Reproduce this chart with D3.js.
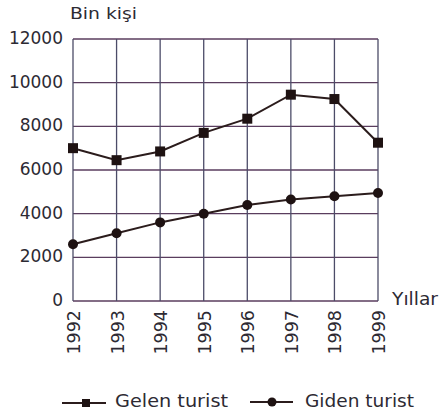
<!DOCTYPE html>
<html>
<head>
<meta charset="utf-8">
<script src="https://d3js.org/d3.v7.min.js"></script>
<style>
  body { margin: 0; background: #fff; }
  text { font-family: "DejaVu Sans", sans-serif; fill: #2d2a33; }
</style>
</head>
<body>
<div id="chart"></div>
<script>
var svgWidth = 441;
var svgHeight = 418;

var years = ["1992", "1993", "1994", "1995", "1996", "1997", "1998", "1999"];
var gelen = [7000, 6450, 6850, 7700, 8350, 9450, 9250, 7250];
var giden = [2600, 3100, 3600, 4000, 4400, 4650, 4800, 4950];
var yTicks = [0, 2000, 4000, 6000, 8000, 10000, 12000];

var margin = { top: 39, right: 63, bottom: 117, left: 73 };
var width = svgWidth - margin.left - margin.right;
var height = svgHeight - margin.top - margin.bottom;

var svg = d3.select("#chart")
  .append("svg")
  .attr("width", svgWidth)
  .attr("height", svgHeight);

var chartGroup = svg.append("g")
  .attr("transform", `translate(${margin.left}, ${margin.top})`);

var xScale = d3.scalePoint()
  .domain(years)
  .range([0, width]);

var yScale = d3.scaleLinear()
  .domain([0, 12000])
  .range([height, 0]);

// grid lines
chartGroup.selectAll(".hgrid")
  .data(yTicks)
  .enter()
  .append("line")
  .attr("x1", 0)
  .attr("x2", width)
  .attr("y1", d => yScale(d))
  .attr("y2", d => yScale(d))
  .attr("stroke", "#5a3d5e")
  .attr("stroke-width", 1.3);

chartGroup.selectAll(".vgrid")
  .data(years)
  .enter()
  .append("line")
  .attr("x1", d => xScale(d))
  .attr("x2", d => xScale(d))
  .attr("y1", 0)
  .attr("y2", height)
  .attr("stroke", "#4c4c68")
  .attr("stroke-width", 1.3);

// y tick labels
chartGroup.selectAll(".ylab")
  .data(yTicks)
  .enter()
  .append("text")
  .attr("x", -10)
  .attr("y", d => yScale(d) + 5)
  .attr("text-anchor", "end")
  .attr("font-size", 17)
  .text(d => d);

// x tick labels, rotated
chartGroup.selectAll(".xlab")
  .data(years)
  .enter()
  .append("text")
  .attr("transform", d => `translate(${xScale(d) + 7}, ${height + 9}) rotate(-90)`)
  .attr("text-anchor", "end")
  .attr("font-size", 17.5)
  .text(d => d);

svg.append("text")
  .attr("x", 70)
  .attr("y", 19)
  .attr("font-size", 16)
  .attr("textLength", 67)
  .attr("lengthAdjust", "spacingAndGlyphs")
  .text("Bin kişi");

svg.append("text")
  .attr("x", 392)
  .attr("y", 305)
  .attr("font-size", 17)
  .attr("textLength", 46)
  .attr("lengthAdjust", "spacingAndGlyphs")
  .text("Yıllar");

var line = d3.line()
  .x((d, i) => xScale(years[i]))
  .y(d => yScale(d));

var lineColor = "#2b1c1c";

chartGroup.append("path")
  .datum(gelen)
  .attr("d", line)
  .attr("fill", "none")
  .attr("stroke", lineColor)
  .attr("stroke-width", 2);

chartGroup.append("path")
  .datum(giden)
  .attr("d", line)
  .attr("fill", "none")
  .attr("stroke", lineColor)
  .attr("stroke-width", 2);

chartGroup.selectAll(".sq")
  .data(gelen)
  .enter()
  .append("rect")
  .attr("x", (d, i) => xScale(years[i]) - 5)
  .attr("y", d => yScale(d) - 5)
  .attr("width", 10)
  .attr("height", 10)
  .attr("fill", "#1e1212");

chartGroup.selectAll(".dot")
  .data(giden)
  .enter()
  .append("circle")
  .attr("cx", (d, i) => xScale(years[i]))
  .attr("cy", d => yScale(d))
  .attr("r", 5)
  .attr("fill", "#1e1212");

// legend
var legend = svg.append("g");
legend.append("line")
  .attr("x1", 62).attr("x2", 106).attr("y1", 403).attr("y2", 403)
  .attr("stroke", lineColor).attr("stroke-width", 2);
legend.append("rect")
  .attr("x", 82).attr("y", 399).attr("width", 8).attr("height", 8)
  .attr("fill", "#1e1212");
legend.append("text")
  .attr("x", 115).attr("y", 407)
  .attr("font-size", 18)
  .attr("textLength", 113)
  .attr("lengthAdjust", "spacingAndGlyphs")
  .text("Gelen turist");

legend.append("line")
  .attr("x1", 250).attr("x2", 293).attr("y1", 402).attr("y2", 402)
  .attr("stroke", lineColor).attr("stroke-width", 2);
legend.append("circle")
  .attr("cx", 272).attr("cy", 402).attr("r", 4.5)
  .attr("fill", "#1e1212");
legend.append("text")
  .attr("x", 305).attr("y", 407)
  .attr("font-size", 18)
  .attr("textLength", 109)
  .attr("lengthAdjust", "spacingAndGlyphs")
  .text("Giden turist");
</script>
</body>
</html>
